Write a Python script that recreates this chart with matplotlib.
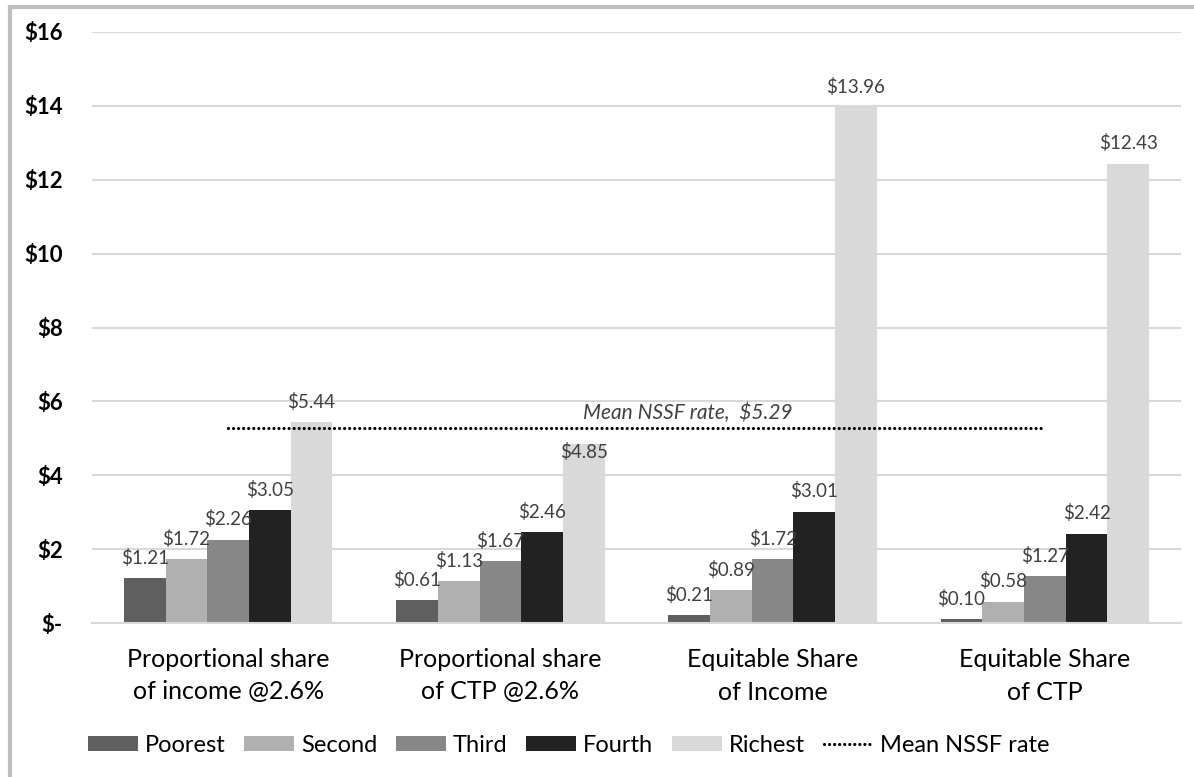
import matplotlib
matplotlib.use("Agg")
import matplotlib.pyplot as plt
import numpy as np
from matplotlib.lines import Line2D
from matplotlib.patches import Patch

categories = ["Proportional share\nof income @2.6%", "Proportional share\nof CTP @2.6%",
              "Equitable Share\nof Income", "Equitable Share\nof CTP"]
series_names = ["Poorest", "Second", "Third", "Fourth", "Richest"]
poorest = [1.21, 0.61, 0.21, 0.10]
second = [1.72, 1.13, 0.89, 0.58]
third = [2.26, 1.67, 1.72, 1.27]
fourth = [3.05, 2.46, 3.01, 2.42]
richest = [5.44, 4.85, 13.96, 12.43]
mean_nssf = 5.29
yticks = [0, 2, 4, 6, 8, 10, 12, 14, 16]
ytick_labels = ["$-", "$2", "$4", "$6", "$8", "$10", "$12", "$14", "$16"]

colors = ["#5f5f5f", "#b0b0b0", "#878787", "#222222", "#d9d9d9"]
series = [poorest, second, third, fourth, richest]

plt.rcParams['font.family'] = ['Lato', 'DejaVu Sans']

fig = plt.figure(figsize=(11.94, 7.77), dpi=100)
ax = fig.add_axes([92/1194, 1 - 623/777, (1181-92)/1194, (623-32)/777])

x = np.arange(len(categories))
bw = 0.153
dot = (0, (0.01, 1.57))
for i, (vals, col) in enumerate(zip(series, colors)):
    pos = x + (i - 2) * bw
    ax.bar(pos, vals, width=bw, color=col, zorder=2)
    for p, v in zip(pos, vals):
        if v < mean_nssf and mean_nssf - v < 0.7:
            # label would clash with the mean line: put it just inside the bar top
            ax.text(p, v + 0.03, f"${v:.2f}", ha="center", va="top",
                    fontsize=13.5, color="#404040", zorder=4)
        else:
            ax.text(p, v + 0.31, f"${v:.2f}", ha="center", va="bottom",
                    fontsize=13.5, color="#404040", zorder=4)

ax.plot([x[0], x[-1]], [mean_nssf, mean_nssf], linestyle=dot, dash_capstyle="round",
        color="black", linewidth=2.3, zorder=3)
ax.text(1.69, mean_nssf + 0.12, f"Mean NSSF rate,  ${mean_nssf:.2f}", ha="center",
        va="bottom", fontsize=15, style="italic", color="#404040", zorder=4)

ax.set_xlim(-0.5, 3.5)
ax.set_ylim(0, 16)
ax.set_yticks(yticks)
ax.set_yticklabels(ytick_labels, fontsize=16, fontweight="bold")
ax.set_xticks(x)
ax.set_xticklabels(categories, fontsize=18, linespacing=1.5)
ax.tick_params(axis="both", length=0)
ax.tick_params(axis="y", pad=21)
ax.tick_params(axis="x", pad=18)
ax.grid(axis="y", color="#d9d9d9", linewidth=1.5, zorder=0)
for s in ["top", "right", "left"]:
    ax.spines[s].set_visible(False)
ax.spines["bottom"].set_color("#d9d9d9")
ax.spines["bottom"].set_linewidth(1.5)

handles = [Patch(facecolor=c, edgecolor="none") for c in colors]
handles.append(Line2D([0], [0], color="black", linestyle=dot, dash_capstyle="round",
                      linewidth=2.3))
labels = series_names + ["Mean NSSF rate"]
fig.legend(handles, labels, loc="center", bbox_to_anchor=(569/1194, 1 - 745/777), ncol=6,
           frameon=False, fontsize=17, handlelength=2.1, handleheight=0.6,
           columnspacing=0.8, handletextpad=0.3)

# outer frame (partially visible)
fig.add_artist(Line2D([10/1194, 10/1194], [0, 1 - 7/777], transform=fig.transFigure,
                      color="#bfbfbf", linewidth=3))
fig.add_artist(Line2D([10/1194, 1], [1 - 7/777, 1 - 7/777], transform=fig.transFigure,
                      color="#bfbfbf", linewidth=3))

fig.savefig("out.png", dpi=100, facecolor="white")
